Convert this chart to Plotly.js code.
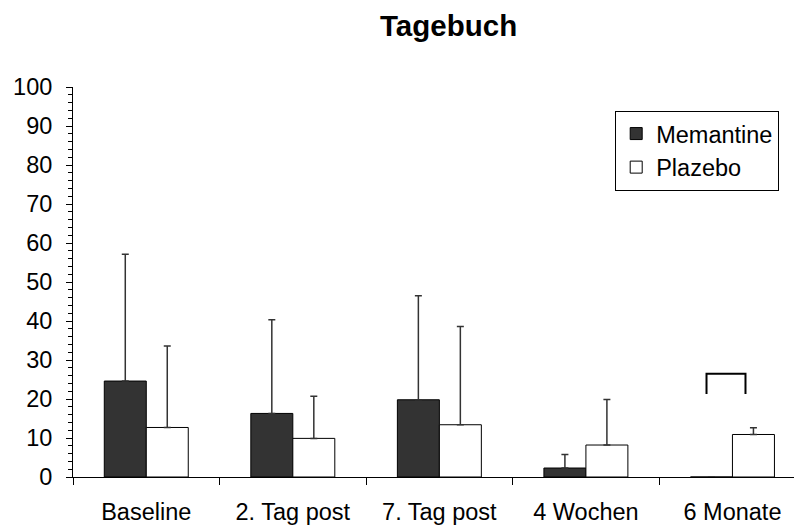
<!DOCTYPE html>
<html>
<head>
<meta charset="utf-8">
<script src="https://cdn.plot.ly/plotly-3.0.1.min.js"></script>
<style>html,body{margin:0;padding:0;background:#fff;}#chart{width:794px;height:527px;}</style>
</head>
<body>
<div id="chart"></div>
<script>
const categories = ["Baseline", "2. Tag post", "7. Tag post", "4 Wochen", "6 Monate"];
const memantine = [24.6, 16.3, 19.8, 2.3, 0];
const memantineSD = [32.5, 24.0, 26.7, 3.5, 0];
const plazebo = [12.7, 9.9, 13.4, 8.2, 10.9];
const plazeboSD = [20.9, 10.8, 25.2, 11.7, 1.7];
const yTicks = [0, 10, 20, 30, 40, 50, 60, 70, 80, 90, 100];
const bracketX = [3.823, 4.089];
const bracketY = [21.3, 26.5];

const font = "Liberation Sans, Arial, sans-serif";
const fs = 23.5;

const traces = [
  {
    type: "bar", name: "Memantine", x: categories, y: memantine,
    marker: {color: "#333333", line: {color: "#000", width: 1}},
    error_y: {type: "data", array: memantineSD, arrayminus: memantine.map(() => 0), symmetric: false, color: "#333", thickness: 1.5, width: 3.5}
  },
  {
    type: "bar", name: "Plazebo", x: categories, y: plazebo,
    marker: {color: "#ffffff", line: {color: "#000", width: 1}},
    error_y: {type: "data", array: plazeboSD, arrayminus: plazebo.map(() => 0), symmetric: false, color: "#333", thickness: 1.5, width: 3.5}
  }
];

const layout = {
  width: 794, height: 527,
  margin: {l: 73, r: 0, t: 87, b: 50},
  paper_bgcolor: "#fff", plot_bgcolor: "#fff",
  font: {family: font, size: fs, color: "#000"},
  title: {text: "<b>Tagebuch</b>", font: {family: font, size: 29.5, color: "#000"}, x: 0.565, xref: "container", xanchor: "center", y: 0.952, yref: "container", yanchor: "middle"},
  barmode: "group", bargap: 0.427, bargroupgap: 0,
  showlegend: true,
  legend: {x: 0.752, y: 0.939, xanchor: "left", yanchor: "top", bordercolor: "#000", borderwidth: 1, bgcolor: "#fff", font: {family: font, size: fs, color: "#000"}, tracegroupgap: 0},
  xaxis: {
    type: "category", range: [-0.5, 4.42], tickson: "boundaries",
    ticks: "outside", ticklen: 7, tickcolor: "#000", tickwidth: 1,
    ticklabelstandoff: 14,
    showline: true, linecolor: "#000", linewidth: 1, showgrid: false, zeroline: false,
    tickfont: {family: font, size: fs, color: "#000"}
  },
  yaxis: {
    range: [0, 100], tickvals: yTicks,
    ticks: "outside", ticklen: 6, tickcolor: "#000", tickwidth: 1,
    ticklabelstandoff: 9,
    minor: {dtick: 2, ticks: "outside", ticklen: 4, tickcolor: "#000", showgrid: false},
    showline: true, linecolor: "#000", linewidth: 1, showgrid: false, zeroline: false,
    tickfont: {family: font, size: fs, color: "#000"}
  },
  shapes: [
    {type: "path", xref: "x", yref: "y",
     path: `M ${bracketX[0]} ${bracketY[0]} L ${bracketX[0]} ${bracketY[1]} L ${bracketX[1]} ${bracketY[1]} L ${bracketX[1]} ${bracketY[0]}`,
     line: {color: "#000", width: 2}}
  ]
};

Plotly.newPlot("chart", traces, layout, {displayModeBar: false, staticPlot: true});
</script>
</body>
</html>
